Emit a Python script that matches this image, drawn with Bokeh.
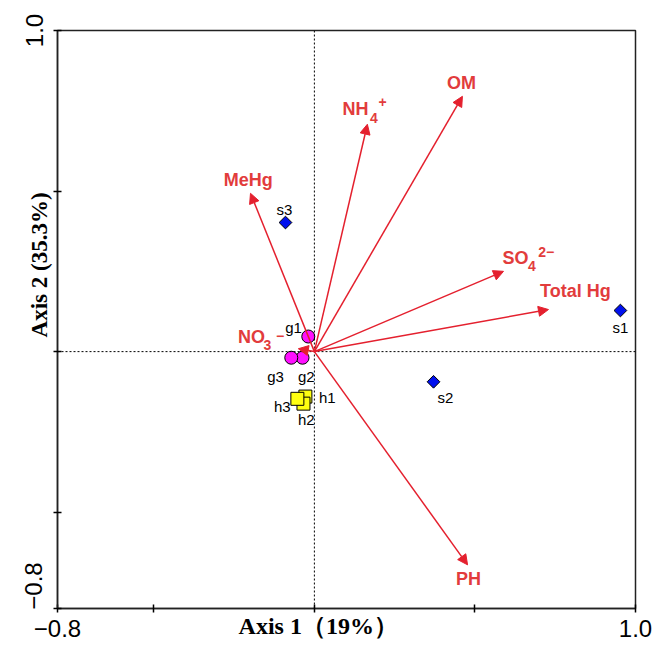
import math
from bokeh.plotting import figure
from bokeh.models import (ColumnDataSource, Arrow, NormalHead, Span, FixedTicker, LinearAxis)
from bokeh.core.properties import value
from bokeh.embed import file_html
from bokeh.resources import INLINE

# ---- data ----
sites = ["s1", "s2", "s3"]
site_x = [0.953, 0.371, -0.090]
site_y = [0.128, -0.094, 0.402]

g_names = ["g1", "g2", "g3"]
g_x = [-0.019, -0.037, -0.072]
g_y = [0.047, -0.019, -0.019]

h_names = ["h1", "h2", "h3"]
h_x = [-0.028, -0.034, -0.053]
h_y = [-0.140, -0.162, -0.147]

env_names = ["OM", "NH4+", "MeHg", "SO42-", "Total Hg", "PH", "NO3-"]
env_x = [0.461, 0.165, -0.199, 0.589, 0.729, 0.477, -0.050]
env_y = [0.795, 0.708, 0.493, 0.250, 0.131, -0.664, 0.009]

axis_ticks = [-0.8, -0.5, 0.0, 0.5, 1.0]
x_tick_labels = {-0.8: "\u22120.8", -0.5: "", 0: "", 0.5: "", 1: "1.0"}
y_label_ticks = [-0.73, 1.0]
y_tick_labels = {-0.73: "\u22120.8", 1: "1.0"}
x_title = "Axis 1\uff0819%\uff09"
y_title = "Axis 2 (35.3%)"
x_title_pos = 0.012
y_title_pos = 0.27

RED = "#e4202e"
LRED = "#e23c3c"
SANS = "Liberation Sans"
SERIF = "Liberation Serif"

p = figure(width=659, height=648, x_range=(-0.8, 1.0), y_range=(-0.8, 1.0),
           output_backend="svg", toolbar_location=None,
           min_border_left=57, min_border_right=24, min_border_top=30, min_border_bottom=40)
p.grid.visible = False
p.outline_line_color = "#222222"
p.outline_line_width = 1.5
p.background_fill_color = "white"
p.border_fill_color = "white"


def style_ticks(ax):
    ax.axis_line_color = "#222222"
    ax.axis_line_width = 1.5
    ax.major_tick_in = 4
    ax.major_tick_out = 4
    ax.major_tick_line_color = "black"
    ax.major_tick_line_width = 1.5
    ax.minor_tick_line_color = None
    ax.minor_tick_out = 0
    ax.minor_tick_in = 0


def bare(ax):
    ax.axis_line_color = None
    ax.major_tick_line_color = None
    ax.minor_tick_line_color = None
    ax.major_tick_in = 0
    ax.major_tick_out = 0
    ax.minor_tick_in = 0
    ax.minor_tick_out = 0


# x axis: ticks + tick labels
xa = p.xaxis[0]
style_ticks(xa)
xa.ticker = FixedTicker(ticks=axis_ticks)
xa.major_label_overrides = x_tick_labels
xa.major_label_text_font = SANS
xa.major_label_text_font_size = "24px"
xa.major_label_text_color = "black"
xa.major_label_standoff = 7

# x title as a second, bare axis pulled up onto the same line
xt = LinearAxis(ticker=FixedTicker(ticks=[x_title_pos]))
bare(xt)
xt.major_label_overrides = {x_title_pos: x_title}
xt.major_label_text_font = SERIF
xt.major_label_text_font_style = "bold"
xt.major_label_text_font_size = "24px"
xt.major_label_text_color = "black"
xt.major_label_standoff = -27
p.add_layout(xt, "below")

# y axis: ticks only
ya = p.yaxis[0]
style_ticks(ya)
ya.ticker = FixedTicker(ticks=axis_ticks)
ya.major_label_overrides = {-0.8: "", -0.5: "", 0: "", 0.5: "", 1: ""}
ya.major_label_text_font_size = "0px"
ya.major_label_standoff = 0

# y tick labels
yl = LinearAxis(ticker=FixedTicker(ticks=y_label_ticks))
bare(yl)
yl.major_label_overrides = y_tick_labels
yl.major_label_text_font = SANS
yl.major_label_text_font_size = "24px"
yl.major_label_text_color = "black"
yl.major_label_orientation = "vertical"
yl.major_label_standoff = 11
p.add_layout(yl, "left")

# y title
yt = LinearAxis(ticker=FixedTicker(ticks=[y_title_pos]))
bare(yt)
yt.major_label_overrides = {y_title_pos: y_title}
yt.major_label_text_font = SERIF
yt.major_label_text_font_style = "bold"
yt.major_label_text_font_size = "23px"
yt.major_label_text_color = "black"
yt.major_label_orientation = "vertical"
yt.major_label_standoff = -30
p.add_layout(yt, "left")

# dashed zero lines
p.add_layout(Span(location=0, dimension="height", line_color="black", line_dash="2 2", line_width=1))
p.add_layout(Span(location=0, dimension="width", line_color="black", line_dash="2 2", line_width=1))

# arrows
asrc = ColumnDataSource(dict(x0=[0.0] * len(env_x), y0=[0.0] * len(env_y), x1=env_x, y1=env_y))
p.add_layout(Arrow(end=NormalHead(size=10, fill_color=RED, line_color=RED, line_width=1),
                   x_start="x0", y_start="y0", x_end="x1", y_end="y1",
                   line_color=RED, line_width=1.5, source=asrc))

# arrow labels (main parts, subscripts, superscripts)
main_txt = ["OM", "NH", "MeHg", "SO", "Total Hg", "PH", "NO"]
main_lx = [0.458, 0.128, -0.206, 0.626, 0.813, 0.480, -0.196]
main_ly = [0.836, 0.755, 0.533, 0.293, 0.190, -0.708, 0.044]
p.text(main_lx, main_ly, text=main_txt, text_font=value(SANS), text_font_style="bold",
       text_font_size="18px", text_color=LRED, text_align="center", text_baseline="middle")
sub_txt = ["4", "4", "3"]
sub_lx = [0.185, 0.677, -0.146]
sub_ly = [0.727, 0.268, 0.020]
p.text(sub_lx, sub_ly, text=sub_txt, text_font=value(SANS), text_font_style="bold",
       text_font_size="14px", text_color=LRED, text_align="center", text_baseline="middle")
sup_txt = ["+", "2\u2212", "\u2212"]
sup_lx = [0.212, 0.722, -0.107]
sup_ly = [0.778, 0.310, 0.050]
p.text(sup_lx, sup_ly, text=sup_txt, text_font=value(SANS), text_font_style="bold",
       text_font_size="14px", text_color=LRED, text_align="center", text_baseline="middle")

# samples
p.scatter(site_x, site_y, marker="square", angle=math.pi / 4, size=9,
          fill_color="#0010ee", line_color="black", line_width=1)
p.scatter(g_x, g_y, marker="circle", size=13, fill_color="#ff10ff", line_color="black", line_width=1)
p.scatter(h_x, h_y, marker="square", size=13, fill_color="#ffff10", line_color="black", line_width=1)

pt_names = sites + g_names + h_names
pt_lx = [0.953, 0.408, -0.093, -0.065, -0.025, -0.121, 0.040, -0.025, -0.100]
pt_ly = [0.075, -0.143, 0.443, 0.075, -0.078, -0.078, -0.143, -0.212, -0.172]
p.text(pt_lx, pt_ly, text=pt_names, text_font=value(SANS), text_font_size="15px",
       text_color="black", text_align="center", text_baseline="middle")

open("out.html", "w").write(file_html(p, INLINE))
